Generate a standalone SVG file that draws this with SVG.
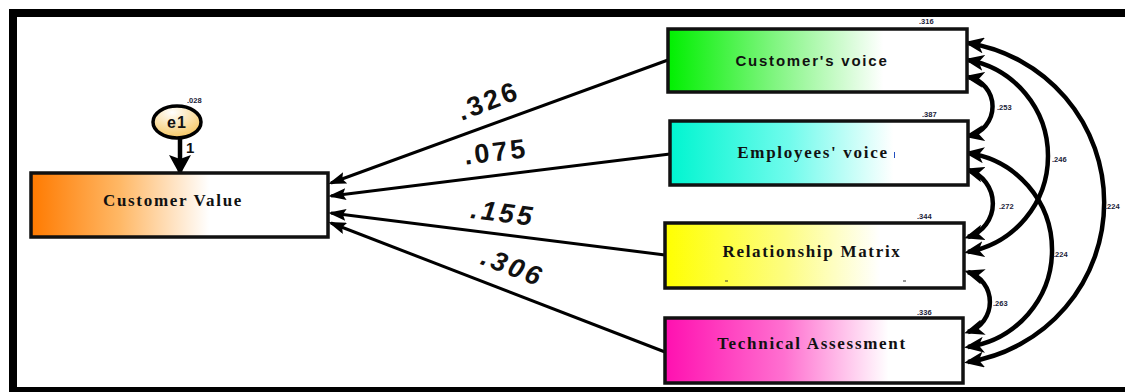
<svg xmlns="http://www.w3.org/2000/svg" width="1125" height="392" viewBox="0 0 1125 392">
<style>
.box{stroke:#111;stroke-width:3.5}
.serif{font-family:"Liberation Serif","Times New Roman",serif;font-weight:bold;font-size:17px;letter-spacing:1.7px;fill:#111}
.sans{font-family:"Liberation Sans",Arial,sans-serif;font-weight:bold;font-size:15px;letter-spacing:1.8px;fill:#111}
.small{font-family:"Liberation Sans",Arial,sans-serif;font-weight:bold;font-size:7.5px;fill:#1a2238}
.coef{font-family:"Liberation Sans",Arial,sans-serif;font-weight:bold;font-size:27px;letter-spacing:3px;fill:#111}
.path{fill:none;stroke:#000;stroke-width:3}
.cov{fill:none;stroke:#000;stroke-width:4.5}
</style>
<defs>
<linearGradient id="gOrange" x1="0" y1="0" x2="1" y2="0">
<stop offset="0" stop-color="#ff7a00"/><stop offset="0.3" stop-color="#ffb866"/><stop offset="0.6" stop-color="#ffffff"/><stop offset="1" stop-color="#ffffff"/>
</linearGradient>
<linearGradient id="gGreen" x1="0" y1="0" x2="1" y2="0">
<stop offset="0" stop-color="#00f000"/><stop offset="0.35" stop-color="#7ef57e"/><stop offset="0.72" stop-color="#ffffff"/><stop offset="1" stop-color="#ffffff"/>
</linearGradient>
<linearGradient id="gCyan" x1="0" y1="0" x2="1" y2="0">
<stop offset="0" stop-color="#00f5d0"/><stop offset="0.4" stop-color="#70fbec"/><stop offset="0.75" stop-color="#ffffff"/><stop offset="1" stop-color="#ffffff"/>
</linearGradient>
<linearGradient id="gYellow" x1="0" y1="0" x2="1" y2="0">
<stop offset="0" stop-color="#ffff00"/><stop offset="0.4" stop-color="#fdfd80"/><stop offset="0.72" stop-color="#ffffff"/><stop offset="1" stop-color="#ffffff"/>
</linearGradient>
<linearGradient id="gPink" x1="0" y1="0" x2="1" y2="0">
<stop offset="0" stop-color="#ff10b0"/><stop offset="0.4" stop-color="#ff70d0"/><stop offset="0.75" stop-color="#ffffff"/><stop offset="1" stop-color="#ffffff"/>
</linearGradient>
<radialGradient id="gE1" cx="0.4" cy="0.2" r="0.9">
<stop offset="0" stop-color="#ffffff"/><stop offset="1" stop-color="#f5c050"/>
</radialGradient>
<marker id="ah" markerUnits="userSpaceOnUse" markerWidth="18" markerHeight="12" refX="15" refY="6" orient="auto">
<path d="M0,0 L18,6 L0,12 L3,6 Z" fill="#000"/>
</marker>
<marker id="ahBig" markerUnits="userSpaceOnUse" markerWidth="20" markerHeight="22" refX="17" refY="11" orient="auto">
<path d="M0,0 L20,11 L0,22 L4,11 Z" fill="#000"/>
</marker>
<marker id="ahCov" markerUnits="userSpaceOnUse" markerWidth="20" markerHeight="16" refX="16" refY="8" orient="auto-start-reverse">
<path d="M0,0 L20,8 L0,16 L5,8 Z" fill="#000"/>
</marker>
</defs>

<rect x="0" y="0" width="1125" height="392" fill="#ffffff"/>
<rect id="frame" x="13" y="13" width="1130" height="378" fill="none" stroke="#000" stroke-width="8"/>

<g id="connectors">
<path class="path" d="M668,60 L331,183" marker-end="url(#ah)"/>
<path class="path" d="M670,154 L331,196" marker-end="url(#ah)"/>
<path class="path" d="M665,255 L331,213" marker-end="url(#ah)"/>
<path class="path" d="M665,352 L331,223" marker-end="url(#ah)"/>
<path fill="none" stroke="#000" stroke-width="4.5" d="M180,138 L180,172" marker-end="url(#ahBig)"/>
<path class="cov" d="M968,77 A30,30 0 0 1 968,136" marker-start="url(#ahCov)" marker-end="url(#ahCov)"/>
<path class="cov" d="M968,60 A97.6,97.6 0 0 1 968,252" marker-start="url(#ahCov)" marker-end="url(#ahCov)"/>
<path class="cov" d="M968,43 A161.5,161.5 0 0 1 968,362" marker-start="url(#ahCov)" marker-end="url(#ahCov)"/>
<path class="cov" d="M968,170 A35,35 0 0 1 968,237" marker-start="url(#ahCov)" marker-end="url(#ahCov)"/>
<path class="cov" d="M968,153 A98,98 0 0 1 968,347" marker-start="url(#ahCov)" marker-end="url(#ahCov)"/>
<path class="cov" d="M968,272 A31.5,31.5 0 0 1 968,332" marker-start="url(#ahCov)" marker-end="url(#ahCov)"/>
<g transform="translate(488,100) rotate(-21)"><text class="coef" x="0" y="10" text-anchor="middle">.326</text></g>
<g transform="translate(496,151) rotate(-7)"><text class="coef" x="0" y="10" text-anchor="middle">.075</text></g>
<g transform="translate(503,212) rotate(7)"><text class="coef" x="0" y="10" text-anchor="middle" font-style="italic">.155</text></g>
<g transform="translate(513,266) rotate(21)"><text class="coef" x="0" y="10" text-anchor="middle" font-style="italic">.306</text></g>
<text class="small" x="997" y="110">.253</text>
<text class="small" x="1052" y="162">.246</text>
<text class="small" x="1105" y="209">.224</text>
<text class="small" x="999" y="209">.272</text>
<text class="small" x="1053" y="257">.224</text>
<text class="small" x="993" y="306">.263</text>
<text font-family="Liberation Sans, Arial, sans-serif" font-weight="bold" font-size="15" fill="#111" x="186" y="153">1</text>
</g>

<g id="e1">
<ellipse cx="177" cy="122" rx="24" ry="16" fill="url(#gE1)" stroke="#000" stroke-width="3.5"/>
<text font-family="Liberation Sans, Arial, sans-serif" font-weight="bold" font-size="16" letter-spacing="1" fill="#111" x="177" y="128" text-anchor="middle">e1</text>
<text class="small" x="187" y="103">.028</text>
</g>

<g id="customer-value">
<rect class="box" x="31" y="173" width="297" height="64" fill="url(#gOrange)"/>
<text class="serif" x="173" y="206" text-anchor="middle">Customer Value</text>
</g>

<g id="customers-voice">
<rect class="box" x="668" y="29" width="299" height="63" fill="url(#gGreen)"/>
<text class="sans" x="812" y="66" text-anchor="middle">Customer's voice</text>
<text class="small" x="919" y="24">.316</text>
</g>

<g id="employees-voice">
<rect class="box" x="670" y="121" width="298" height="64" fill="url(#gCyan)"/>
<text class="serif" x="813" y="158" text-anchor="middle">Employees' voice</text>
<line x1="894.5" y1="152" x2="894.5" y2="158" stroke="#2050c0" stroke-width="1"/>
<text class="small" x="922" y="117">.387</text>
</g>

<g id="relationship-matrix">
<rect class="box" x="665" y="223" width="299" height="65" fill="url(#gYellow)"/>
<text class="serif" x="812" y="257" text-anchor="middle">Relationship Matrix</text>
<line x1="725" y1="281" x2="728" y2="281" stroke="#333" stroke-width="1"/>
<line x1="903" y1="281" x2="906" y2="281" stroke="#333" stroke-width="1"/>
<text class="small" x="917" y="219">.344</text>
</g>

<g id="technical-assessment">
<rect class="box" x="665" y="318" width="298" height="65" fill="url(#gPink)"/>
<text class="serif" x="812" y="349" text-anchor="middle">Technical Assessment</text>
<text class="small" x="917" y="315">.336</text>
</g>
</svg>
